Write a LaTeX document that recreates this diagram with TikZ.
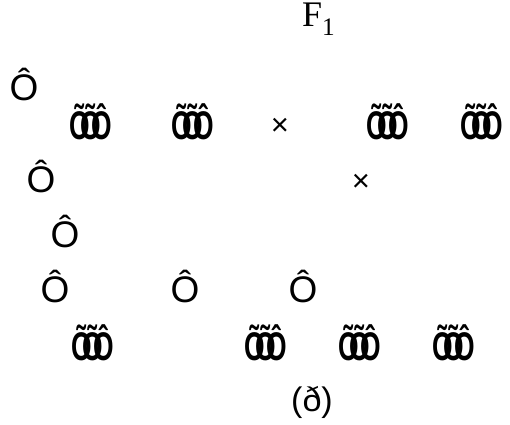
\documentclass[tikz,border=0pt]{standalone}
\usepackage{fontspec}
\setmainfont{Liberation Sans}
\newfontfamily\serifF{Liberation Serif}
\newcommand{\clusterglyph}{\scalebox{0.66}[1]{Õ\kern-0.37em Õ\kern-0.37em Ô}}
\begin{document}
\begin{tikzpicture}[x=1pt,y=1pt,
  big/.style={inner sep=0pt,font=\fontsize{37}{37}\selectfont},
  paren/.style={inner sep=0pt,font=\fontsize{34}{34}\selectfont},
  clus/.style={inner sep=0pt,font=\fontsize{40}{40}\selectfont\bfseries},
  mult/.style={inner sep=0pt,font=\fontsize{31}{31}\selectfont},
  ftitle/.style={inner sep=0pt,anchor=base west,font=\fontsize{36}{36}\serifF}]
\useasboundingbox (0,0) rectangle (510,424);
\node[ftitle] (f1) at (302,397) {F\textsubscript{1}};
\node[big] (o1) at (24,339) {Ô};
\node[clus] (c1) at (91,302) {\clusterglyph};
\node[clus] (c2) at (193,302) {\clusterglyph};
\node[mult] (x1) at (280,297) {×};
\node[clus] (c3) at (388,302) {\clusterglyph};
\node[clus] (c4) at (482,302) {\clusterglyph};
\node[big] (o2) at (41,247) {Ô};
\node[mult] (x2) at (361,241) {×};
\node[big] (o3) at (65,192) {Ô};
\node[big] (o4) at (55,137) {Ô};
\node[big] (o5) at (185,137) {Ô};
\node[big] (o6) at (303,137) {Ô};
\node[clus] (c5) at (93,81) {\clusterglyph};
\node[clus] (c6) at (266,81) {\clusterglyph};
\node[clus] (c7) at (360,81) {\clusterglyph};
\node[clus] (c8) at (454,81) {\clusterglyph};
\node[paren] (p) at (312,22) {(ð)};
\end{tikzpicture}
\end{document}
